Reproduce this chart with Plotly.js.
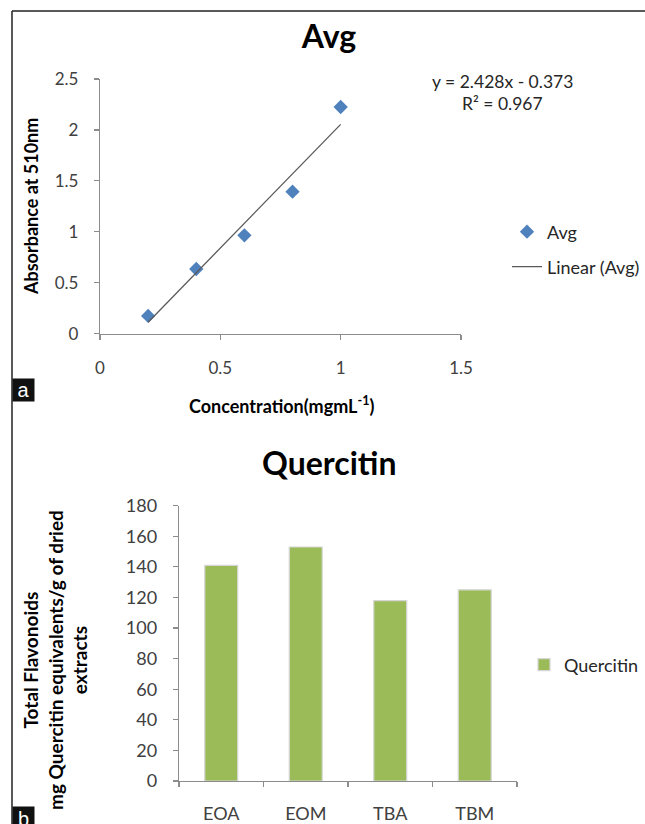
<!DOCTYPE html>
<html>
<head>
<meta charset="utf-8">
<script src="https://cdn.plot.ly/plotly-3.0.1.min.js"></script>
<style>html,body{margin:0;padding:0;background:#fff;}#chart{width:645px;height:824px;}</style>
</head>
<body>
<div id="chart"></div>
<script>
// ---- Panel a data ----
const concentration = [0.2, 0.4, 0.6, 0.8, 1.0];
const absorbance = [0.174, 0.635, 0.966, 1.394, 2.225];
const fitSlope = 2.428;
const fitIntercept = -0.373;
const equationText = 'y = 2.428x - 0.373';
const r2Text = 'R\u00b2 = 0.967';
const xTicksA = [0, 0.5, 1, 1.5];
const yTicksA = [0, 0.5, 1, 1.5, 2, 2.5];

// ---- Panel b data ----
const extracts = ['EOA', 'EOM', 'TBA', 'TBM'];
const quercitin = [141, 153, 118, 125];
const yTicksB = [0, 20, 40, 60, 80, 100, 120, 140, 160, 180];

const W = 645, H = 824;
const px = v => v / W;
const py = v => 1 - v / H;

const FONT = 'Lato, "Open Sans", sans-serif';
const axisGray = '#8c8c8c';
const tickFont = {family: FONT, size: 17, color: '#404040'};

const xFitLine = [Math.min(...concentration), Math.max(...concentration)];
const yFitLine = xFitLine.map(x => fitSlope * x + fitIntercept);

const traces = [
  {
    type: 'scatter', mode: 'markers', name: 'Avg',
    x: concentration, y: absorbance, xaxis: 'x', yaxis: 'y',
    marker: {symbol: 'diamond', size: 11, color: '#4F81BD'},
    legend: 'legend', cliponaxis: false
  },
  {
    type: 'scatter', mode: 'lines', name: 'Linear (Avg)',
    x: xFitLine, y: yFitLine, xaxis: 'x', yaxis: 'y',
    line: {color: '#5a5a5a', width: 1.3},
    legend: 'legend3'
  },
  {
    type: 'bar', name: 'Quercitin',
    x: extracts, y: quercitin, xaxis: 'x2', yaxis: 'y2',
    width: 0.39,
    marker: {color: '#9BBB59', line: {color: '#d6d6d6', width: 1.2}},
    legend: 'legend2'
  }
];

const commonAxis = {
  showgrid: false, zeroline: false, showline: true,
  linecolor: axisGray, linewidth: 1.2,
  ticks: 'outside', ticklen: 5, tickcolor: axisGray, tickwidth: 1.2,
  tickfont: tickFont
};

const legendFont = {family: FONT, size: 18, color: '#262626'};

const layout = {
  width: W, height: H,
  margin: {l: 0, r: 0, t: 0, b: 0},
  paper_bgcolor: '#ffffff', plot_bgcolor: '#ffffff',
  font: {family: FONT, color: '#262626'},
  title: {
    text: '<b>Avg</b>', x: px(329), xanchor: 'center', xref: 'paper',
    y: py(37), yanchor: 'middle', yref: 'paper',
    font: {family: FONT, size: 32, color: '#000'}
  },
  xaxis: Object.assign({}, commonAxis, {
    domain: [px(100), px(461)], range: [0, 1.5],
    tickvals: xTicksA, ticklabelstandoff: 14, anchor: 'y'
  }),
  yaxis: Object.assign({}, commonAxis, {
    domain: [py(333.7), py(79)], range: [0, 2.5],
    tickvals: yTicksA, ticklabelstandoff: 12, anchor: 'x'
  }),
  xaxis2: Object.assign({}, commonAxis, {
    domain: [px(179), px(517)], range: [-0.5, 3.5],
    type: 'category', tickson: 'boundaries', ticklabelstandoff: 16,
    anchor: 'y2', tickfont: Object.assign({}, tickFont, {size: 18})
  }),
  yaxis2: Object.assign({}, commonAxis, {
    domain: [py(781), py(505.7)], range: [0, 180],
    tickvals: yTicksB, ticklabelstandoff: 12, anchor: 'x2',
    tickfont: Object.assign({}, tickFont, {size: 18})
  }),
  showlegend: true,
  legend: {
    x: px(507), xanchor: 'left', y: py(232), yanchor: 'middle',
    bgcolor: 'rgba(0,0,0,0)', font: legendFont
  },
  legend3: {
    x: px(507), xanchor: 'left', y: py(267), yanchor: 'middle',
    bgcolor: 'rgba(0,0,0,0)', font: legendFont
  },
  legend2: {
    x: px(524), xanchor: 'left', y: py(665), yanchor: 'middle',
    bgcolor: 'rgba(0,0,0,0)', font: legendFont
  },
  annotations: [
    {text: equationText, x: px(502), y: py(81), xref: 'paper', yref: 'paper',
     xanchor: 'center', yanchor: 'middle', showarrow: false,
     font: {family: FONT, size: 17.5, color: '#262626'}},
    {text: r2Text, x: px(502), y: py(103), xref: 'paper', yref: 'paper',
     xanchor: 'center', yanchor: 'middle', showarrow: false,
     font: {family: FONT, size: 17.5, color: '#262626'}},
    {text: '<b>Absorbance at 510nm</b>', x: px(31), y: py(207), xref: 'paper', yref: 'paper',
     textangle: -90, xanchor: 'center', yanchor: 'middle', showarrow: false,
     font: {family: FONT, size: 18, color: '#000'}},
    {text: '<b>Concentration(mgmL<sup>-1</sup>)</b>', x: px(281), y: py(405), xref: 'paper', yref: 'paper',
     xanchor: 'center', yanchor: 'middle', showarrow: false,
     font: {family: FONT, size: 18, color: '#000'}},
    {text: '<b>Quercitin</b>', x: px(329), y: py(462), xref: 'paper', yref: 'paper',
     xanchor: 'center', yanchor: 'middle', showarrow: false,
     font: {family: FONT, size: 32, color: '#000'}},
    {text: '<b>Total Flavonoids<br>mg Quercitin equivalents/g of dried<br>extracts</b>',
     x: px(55), y: py(660), xref: 'paper', yref: 'paper',
     textangle: -90, xanchor: 'center', yanchor: 'middle', showarrow: false,
     font: {family: FONT, size: 19, color: '#000'}},
    {text: 'a', x: px(12), y: py(378), xref: 'paper', yref: 'paper',
     xanchor: 'left', yanchor: 'top', showarrow: false, bgcolor: '#111', width: 21, height: 22,
     borderpad: 0, font: {family: 'Liberation Sans, Arial, sans-serif', size: 20, color: '#fff'}},
    {text: 'b', x: px(12), y: py(806), xref: 'paper', yref: 'paper',
     xanchor: 'left', yanchor: 'top', showarrow: false, bgcolor: '#111', width: 21, height: 24,
     borderpad: 0, font: {family: 'Liberation Sans, Arial, sans-serif', size: 20, color: '#fff'}}
  ],
  shapes: [
    {type: 'line', xref: 'paper', yref: 'paper', x0: px(12), x1: 1, y0: py(11), y1: py(11),
     line: {color: '#222', width: 1.5}},
    {type: 'line', xref: 'paper', yref: 'paper', x0: px(12), x1: px(12), y0: py(11), y1: 0,
     line: {color: '#222', width: 1.5}}
  ]
};

Plotly.newPlot('chart', traces, layout, {displayModeBar: false, staticPlot: true});
</script>
</body>
</html>
